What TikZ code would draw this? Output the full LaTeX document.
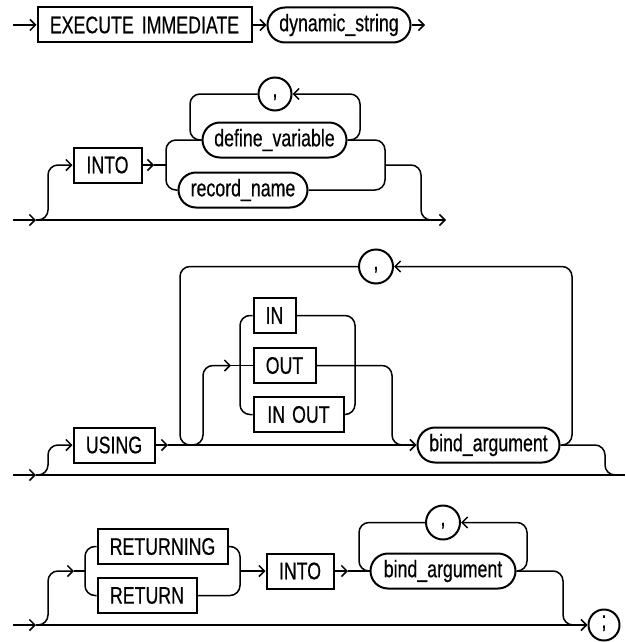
\documentclass[tikz,border=0pt]{standalone}
\usepackage{fontspec}
\setmainfont[FakeStretch=0.74,FakeBold=0.5]{Liberation Sans}
\usetikzlibrary{arrows.meta,shapes.misc}
\begin{document}
\begin{tikzpicture}[x=1pt,y=-1pt,
  every node/.style={font=\fontsize{24}{28}\selectfont},
  kw/.style={draw,line width=2pt,rectangle,inner sep=0pt,minimum height=35pt},
  nt/.style={draw,line width=2pt,rounded rectangle,inner sep=0pt,minimum height=35pt},
  sym/.style={draw,line width=2pt,circle,inner sep=0pt,minimum size=33pt,text height=6pt,text depth=0pt},
  ln/.style={line width=1.5pt,rounded corners=10pt},
  arr/.style={-{Straight Barb[length=5.5pt,width=11pt]}}]
\useasboundingbox (0,0) rectangle (625,642);

% ---------- row 1
\node[kw,minimum width=214pt] (exec) at (144.5,25) {EXECUTE\hspace{8pt}IMMEDIATE};
\node[nt,minimum width=143pt] (dyn) at (339,25) {dynamic\_string};
\coordinate (s1) at (13,25);
\coordinate (e1) at (425,25);
\draw[ln,arr] (s1) -- (exec.west);
\draw[ln,arr] (exec.east) -- (dyn.west);
\draw[ln,arr] (dyn.east) -- (e1);

% ---------- row 2
\node[kw,minimum width=68pt] (into1) at (107.5,165) {INTO};
\node[nt,minimum width=144pt] (defvar) at (274.5,140) {define\_variable};
\node[nt,minimum width=129pt] (recname) at (243,190) {record\_name};
\node[sym] (comma1) at (275,94) {,};
\coordinate (s2) at (13,220);
\coordinate (b2) at (36,220);
\coordinate (e2) at (446,220);
\coordinate (j2) at (154,165);
\draw[ln,arr] (s2) -- (b2);
\draw[ln,arr] (b2) -- (e2);
\draw[ln,arr] (b2) -| (48,165) -- (into1.west);
\draw[ln,arr] (into1.east) -- (j2);
\draw[ln] (j2) -- (166,165);
\draw[ln] (defvar.west) -| (166,190) -- (recname.west);
\draw[ln] (defvar.east) -| (385,190) -- (recname.east);
\draw[ln] (385,165) -| (421,220) -- (433,220);
\draw[ln,arr] (defvar.east) -| (360,94) -- (comma1.east);
\draw[ln] (comma1.west) -| (190,140) -- (defvar.west);

% ---------- row 3
\node[kw,minimum width=81pt] (using) at (114,445) {USING};
\node[kw,minimum width=42pt] (in) at (274.5,315.5) {IN};
\node[kw,minimum width=62pt] (out) at (284.5,365.5) {OUT};
\node[kw,minimum width=90pt] (inout) at (298.5,414.5) {IN\hspace{7pt}OUT};
\node[nt,minimum width=142pt] (bind1) at (488.5,445) {bind\_argument};
\node[sym,minimum size=34pt] (comma2) at (376,266.5) {,};
\coordinate (s3) at (13,475);
\coordinate (b3) at (36,475);
\coordinate (e3) at (625,475);
\coordinate (u3) at (168,445);
\coordinate (o3) at (231,365.5);
\draw[ln,arr] (s3) -- (b3);
\draw[ln] (b3) -- (e3);
\draw[ln,arr] (b3) -| (48,445) -- (using.west);
\draw[ln,arr] (using.east) -- (u3);
\draw[ln,arr] (u3) -- (bind1.west);
\draw[ln,arr] (192,445) -| (203,365.5) -- (o3);
\draw[ln] (o3) -- (out.west);
\draw[ln] (in.west) -| (240,414.5) -- (inout.west);
\draw[ln] (in.east) -| (355,414.5) -- (inout.east);
\draw[ln] (out.east) -| (392,445) -- (404,445);
\draw[ln,arr] (bind1.east) -| (572,266.5) -- (comma2.east);
\draw[ln] (comma2.west) -| (180,445) -- (192,445);
\draw[ln] (bind1.east) -| (605,475) -- (615,475);

% ---------- row 4
\node[kw,minimum width=130pt] (returning) at (162.5,546.5) {RETURNING};
\node[kw,minimum width=99pt] (return) at (147,595.5) {RETURN};
\node[kw,minimum width=67pt] (into2) at (300,571) {INTO};
\node[nt,minimum width=145pt] (bind2) at (443,571) {bind\_argument};
\node[sym,minimum size=34pt] (comma3) at (443,522.5) {,};
\node[sym,minimum size=31pt] (semi) at (604,625) {;};
\coordinate (s4) at (13,625);
\coordinate (b4) at (36,625);
\coordinate (r4) at (74,571);
\coordinate (i4) at (348,571);
\draw[ln,arr] (s4) -- (b4);
\draw[ln,arr] (b4) -- (semi.west);
\draw[ln,arr] (b4) -| (48,571) -- (r4);
\draw[ln] (r4) -- (85,571);
\draw[ln] (returning.west) -| (85,595.5) -- (return.west);
\draw[ln] (returning.east) -| (240,595.5) -- (return.east);
\draw[ln,arr] (240,571) -- (into2.west);
\draw[ln,arr] (into2.east) -- (i4);
\draw[ln] (i4) -- (bind2.west);
\draw[ln,arr] (bind2.east) -| (527,522.5) -- (comma3.east);
\draw[ln] (comma3.west) -| (359,571) -- (bind2.west);
\draw[ln] (bind2.east) -| (563,625) -- (575,625);
\end{tikzpicture}
\end{document}
